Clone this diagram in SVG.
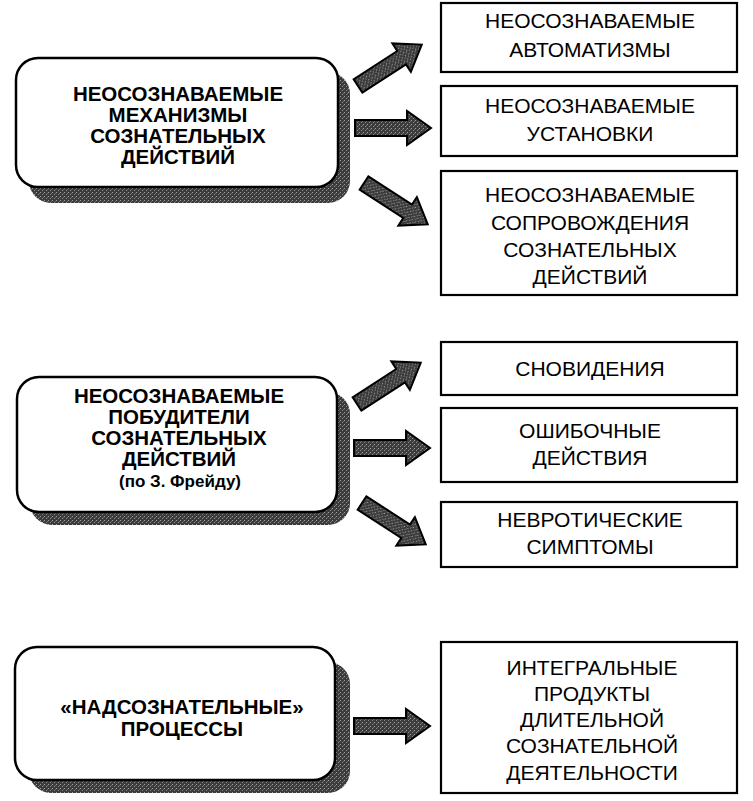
<svg xmlns="http://www.w3.org/2000/svg" width="753" height="801" viewBox="0 0 753 801">
<defs>
<pattern id="ht" width="4" height="4" patternUnits="userSpaceOnUse">
<rect width="4" height="4" fill="#3c3c3c"/>
<rect x="0" y="0" width="1" height="1" fill="#a0a0a0"/>
<rect x="2" y="2" width="1" height="1" fill="#8c8c8c"/>
<rect x="3" y="1" width="1" height="1" fill="#6a6a6a"/>
</pattern>
<path id="arr" d="M0,-8 L52,-8 L52,-17 L76,0 L52,17 L52,8 L0,8 Z"/>
</defs>
<style>
.shadow{fill:url(#ht);}
.lbox{fill:#fff;stroke:#000;stroke-width:2.5;}
.rbox{fill:#fff;stroke:#000;stroke-width:2.2;}
.arrow{fill:url(#ht);stroke:#000;stroke-width:2;stroke-linejoin:miter;}
.lt{font-family:"Liberation Sans",Arial,sans-serif;font-weight:bold;font-size:20.5px;text-anchor:middle;fill:#000;}
.lts{font-family:"Liberation Sans",Arial,sans-serif;font-weight:bold;font-size:17px;text-anchor:middle;fill:#000;}
.rt{font-family:"Liberation Sans",Arial,sans-serif;font-size:21px;text-anchor:middle;fill:#000;}
</style>
<rect width="753" height="801" fill="#fff"/>

<g id="connectors">
<use href="#arr" class="arrow" transform="translate(358,86) rotate(-33)"/>
<use href="#arr" class="arrow" transform="translate(355,128)"/>
<use href="#arr" class="arrow" transform="translate(364,183) rotate(33)"/>
<use href="#arr" class="arrow" transform="translate(357,404) rotate(-33)"/>
<use href="#arr" class="arrow" transform="translate(354,448)"/>
<use href="#arr" class="arrow" transform="translate(362,503) rotate(33)"/>
<use href="#arr" class="arrow" transform="translate(354,726)"/>
</g>

<g id="left1">
<rect class="shadow" x="29" y="72" width="321" height="131" rx="22"/>
<rect class="lbox" x="16" y="58" width="322" height="129" rx="22"/>
<text class="lt" x="178" y="101">НЕОСОЗНАВАЕМЫЕ</text>
<text class="lt" x="178" y="122">МЕХАНИЗМЫ</text>
<text class="lt" x="178" y="143">СОЗНАТЕЛЬНЫХ</text>
<text class="lt" x="178" y="164">ДЕЙСТВИЙ</text>
</g>

<g id="r1a">
<rect class="rbox" x="441" y="3" width="296" height="69"/>
<text class="rt" x="590" y="28">НЕОСОЗНАВАЕМЫЕ</text>
<text class="rt" x="590" y="57">АВТОМАТИЗМЫ</text>
</g>
<g id="r1b">
<rect class="rbox" x="441" y="86" width="296" height="70"/>
<text class="rt" x="590" y="113">НЕОСОЗНАВАЕМЫЕ</text>
<text class="rt" x="590" y="141">УСТАНОВКИ</text>
</g>
<g id="r1c">
<rect class="rbox" x="441" y="171" width="296" height="124"/>
<text class="rt" x="590" y="202">НЕОСОЗНАВАЕМЫЕ</text>
<text class="rt" x="590" y="230">СОПРОВОЖДЕНИЯ</text>
<text class="rt" x="590" y="257">СОЗНАТЕЛЬНЫХ</text>
<text class="rt" x="590" y="284">ДЕЙСТВИЙ</text>
</g>

<g id="left2">
<rect class="shadow" x="30" y="392" width="320" height="133" rx="22"/>
<rect class="lbox" x="17" y="377" width="320" height="135" rx="22"/>
<text class="lt" x="179" y="403">НЕОСОЗНАВАЕМЫЕ</text>
<text class="lt" x="179" y="424">ПОБУДИТЕЛИ</text>
<text class="lt" x="179" y="445">СОЗНАТЕЛЬНЫХ</text>
<text class="lt" x="179" y="466">ДЕЙСТВИЙ</text>
<text class="lts" x="180" y="487">(по З. Фрейду)</text>
</g>

<g id="r2a">
<rect class="rbox" x="441" y="342" width="296" height="53"/>
<text class="rt" x="590" y="376">СНОВИДЕНИЯ</text>
</g>
<g id="r2b">
<rect class="rbox" x="441" y="408" width="296" height="74"/>
<text class="rt" x="590" y="438">ОШИБОЧНЫЕ</text>
<text class="rt" x="590" y="465">ДЕЙСТВИЯ</text>
</g>
<g id="r2c">
<rect class="rbox" x="441" y="502" width="296" height="65"/>
<text class="rt" x="590" y="527">НЕВРОТИЧЕСКИЕ</text>
<text class="rt" x="590" y="554">СИМПТОМЫ</text>
</g>

<g id="left3">
<rect class="shadow" x="29" y="662" width="321" height="131" rx="22"/>
<rect class="lbox" x="15" y="647" width="320" height="133" rx="22"/>
<text class="lt" x="182" y="714">«НАДСОЗНАТЕЛЬНЫЕ»</text>
<text class="lt" x="182" y="736">ПРОЦЕССЫ</text>
</g>

<g id="r3">
<rect class="rbox" x="441" y="642" width="296" height="151"/>
<text class="rt" x="592" y="675">ИНТЕГРАЛЬНЫЕ</text>
<text class="rt" x="592" y="701">ПРОДУКТЫ</text>
<text class="rt" x="592" y="727">ДЛИТЕЛЬНОЙ</text>
<text class="rt" x="592" y="753">СОЗНАТЕЛЬНОЙ</text>
<text class="rt" x="592" y="780">ДЕЯТЕЛЬНОСТИ</text>
</g>
</svg>
